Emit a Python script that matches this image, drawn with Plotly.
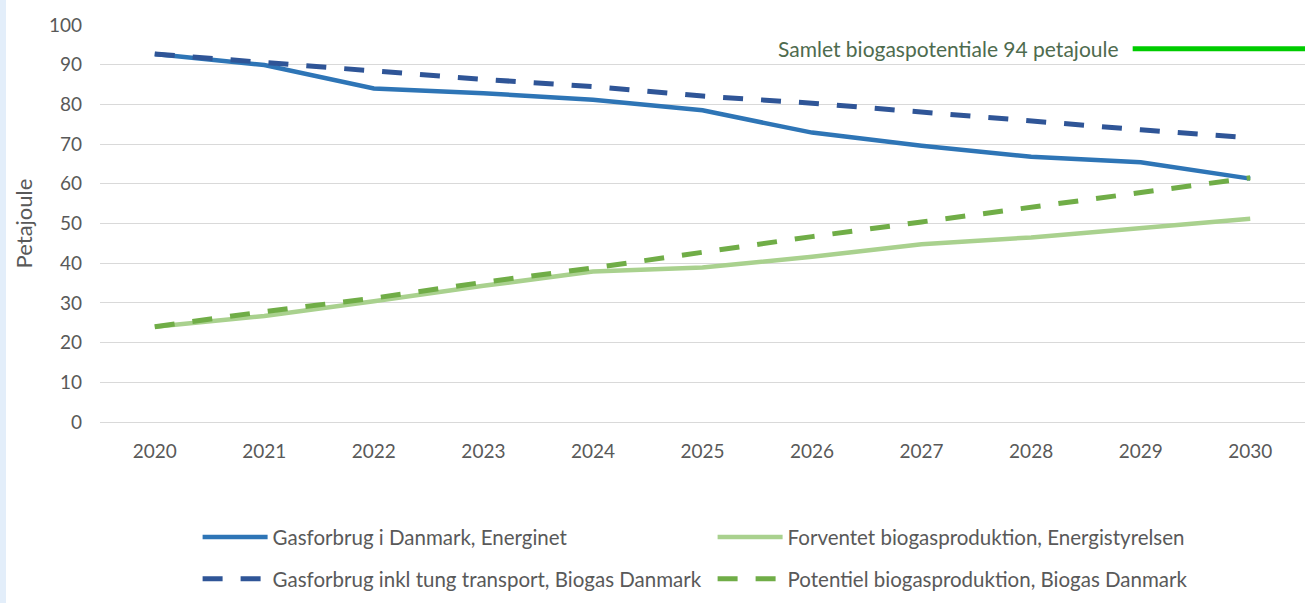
import plotly.graph_objects as go

years = [2020, 2021, 2022, 2023, 2024, 2025, 2026, 2027, 2028, 2029, 2030]
gas_energinet = [92.7, 89.9, 84.0, 82.8, 81.2, 78.5, 72.9, 69.6, 66.8, 65.4, 61.3]
gas_transport = [92.7, 90.5, 88.2, 86.3, 84.5, 82.1, 80.3, 78.0, 75.7, 73.6, 71.6]
bio_expected = [24.0, 26.7, 30.4, 34.3, 37.9, 38.9, 41.6, 44.8, 46.5, 48.8, 51.2]
bio_potential = [24.0, 27.8, 31.2, 35.2, 38.8, 42.8, 46.7, 50.4, 54.1, 57.8, 61.5]
total_potential = 94
potential_label = "Samlet biogaspotentiale 94 petajoule"

names = [
    "Gasforbrug i Danmark, Energinet",
    "Forventet biogasproduktion, Energistyrelsen",
    "Gasforbrug inkl tung transport, Biogas Danmark",
    "Potentiel biogasproduktion, Biogas Danmark",
]

FONT = "Lato, 'Open Sans', sans-serif"
GREY = "#595959"

fig = go.Figure()
fig.add_trace(go.Scatter(x=years, y=gas_energinet, mode="lines", name=names[0],
                         legend="legend",
                         line=dict(color="#2E75B6", width=4.5)))
fig.add_trace(go.Scatter(x=years, y=bio_expected, mode="lines", name=names[1],
                         legend="legend",
                         line=dict(color="#A9D18E", width=4.5)))
fig.add_trace(go.Scatter(x=years, y=gas_transport, mode="lines", name=names[2],
                         legend="legend2",
                         line=dict(color="#2F5597", width=5, dash="20px,18px")))
fig.add_trace(go.Scatter(x=years, y=bio_potential, mode="lines", name=names[3],
                         legend="legend2",
                         line=dict(color="#70AD47", width=5, dash="20px,18px")))

# potential reference segment
fig.add_shape(type="line", xref="paper", yref="y", x0=0.857, x1=1.0,
              y0=total_potential, y1=total_potential,
              line=dict(color="#00CC00", width=5))
fig.add_annotation(xref="paper", yref="y", x=0.847, y=total_potential, text=potential_label,
                   showarrow=False, xanchor="right", yanchor="middle",
                   font=dict(family=FONT, size=21, color="#4E6B4E"))

# left frame band
fig.add_shape(type="rect", xref="paper", yref="paper", x0=-0.083, x1=-0.078, y0=-0.8, y1=1.2,
              line=dict(width=0), fillcolor="#E3EEFA", layer="below")

legend_common = dict(orientation="h", xanchor="left", yanchor="middle",
                     entrywidth=435, entrywidthmode="pixels",
                     itemwidth=65, bgcolor="rgba(0,0,0,0)",
                     font=dict(family=FONT, size=20.5, color=GREY))

fig.update_layout(
    width=1309, height=603,
    margin=dict(l=100, r=4, t=25, b=181),
    paper_bgcolor="white", plot_bgcolor="white",
    font=dict(family=FONT, size=19, color=GREY),
    showlegend=True,
    legend=dict(x=0.081, y=-0.29, **legend_common),
    legend2=dict(x=0.081, y=-0.395, **legend_common),
    xaxis=dict(range=[2019.5, 2030.5], tickmode="array", tickvals=years,
               ticktext=[str(y) for y in years], showgrid=False, zeroline=False,
               showline=True, linecolor="#D9D9D9", linewidth=1,
               ticks="", ticklabelstandoff=12, tickfont=dict(size=19, color=GREY)),
    yaxis=dict(range=[0, 100], dtick=10, showgrid=True, gridcolor="#D9D9D9", gridwidth=1,
               zeroline=False, showline=False, ticks="", ticklabelstandoff=17,
               tickfont=dict(size=19, color=GREY),
               title=dict(text="Petajoule", standoff=10, font=dict(size=22, color=GREY))),
)

fig.write_html("out.html", config={"displayModeBar": False},
               post_script="document.body.style.margin='0';")
